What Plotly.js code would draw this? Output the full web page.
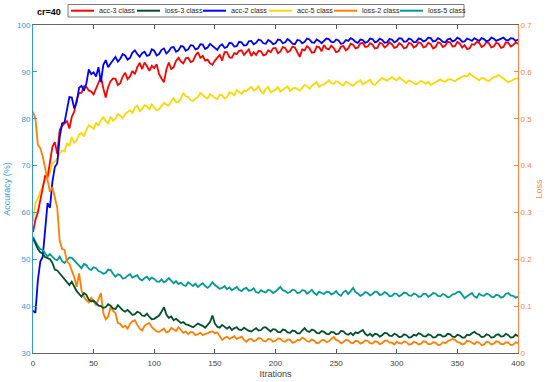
<!DOCTYPE html>
<html>
<head>
<meta charset="utf-8">
<script src="https://cdn.plot.ly/plotly-3.0.1.min.js"></script>
<style>html,body{margin:0;padding:0;background:#fff}#chart{width:550px;height:382px}</style>
</head>
<body>
<div id="chart"></div>
<script>
// Iterations sampled every 2 steps (0..400)
const iterations = Array.from({length: 201}, (_, i) => i * 2);

const acc3 = [
55.8,58.4,60.0,62.6,65.4,67.8,67.5,71.2,74.0,75.0,
72.5,77.6,78.5,79.0,79.5,77.9,80.4,81.5,84.0,85.5,
85.5,86.9,86.8,86.0,85.8,85.2,86.5,87.5,88.9,86.5,
84.5,86.8,88.0,88.6,88.5,87.2,87.6,89.0,89.8,88.4,
89.0,90.2,89.5,91.0,91.9,90.6,92.0,91.2,90.2,91.3,
90.8,91.6,89.5,88.6,87.8,90.5,92.0,90.6,91.0,92.4,
93.0,92.2,91.8,92.9,93.0,92.1,92.3,93.5,94.2,93.0,
93.4,92.4,92.6,91.8,91.5,92.4,93.0,93.6,92.4,94.2,
94.2,93.1,93.0,94.0,93.8,94.5,94.6,93.6,94.2,94.8,
93.4,94.2,93.6,94.5,94.4,93.5,93.7,94.6,94.2,95.0,
95.1,94.0,94.3,95.3,95.1,94.2,94.5,95.4,95.2,94.0,
93.2,94.8,94.6,95.5,95.0,94.1,94.2,95.4,95.3,94.4,
95.7,95.0,94.8,95.6,95.1,94.2,94.4,95.4,95.5,94.6,
95.0,96.0,95.8,95.0,95.2,96.1,96.2,95.3,95.4,96.1,
95.8,95.0,95.1,96.2,96.0,95.2,95.6,96.3,95.9,95.1,
95.3,96.1,95.8,95.0,95.2,96.2,96.0,95.2,95.5,96.3,
96.1,95.2,95.4,96.2,95.9,95.0,95.3,96.3,96.1,95.3,
95.6,96.4,96.3,95.4,95.5,96.4,96.0,95.2,95.7,94.9,
95.0,95.9,95.8,96.4,96.2,95.3,95.6,96.4,96.1,95.2,
95.4,96.2,96.0,95.1,95.3,96.3,96.2,95.4,95.7,96.3,
96.0];

const loss3 = [
0.245,0.232,0.222,0.215,0.212,0.205,0.203,0.200,0.192,0.178,
0.176,0.170,0.162,0.158,0.150,0.145,0.152,0.140,0.132,0.126,
0.120,0.128,0.124,0.114,0.110,0.112,0.106,0.101,0.100,0.096,
0.098,0.104,0.101,0.095,0.094,0.102,0.097,0.091,0.088,0.092,
0.087,0.081,0.083,0.088,0.086,0.080,0.079,0.084,0.077,0.072,
0.073,0.076,0.080,0.088,0.098,0.082,0.075,0.078,0.070,0.073,
0.068,0.064,0.066,0.061,0.060,0.057,0.055,0.059,0.063,0.060,
0.058,0.054,0.060,0.066,0.080,0.063,0.056,0.054,0.060,0.055,
0.052,0.056,0.049,0.053,0.055,0.050,0.049,0.054,0.051,0.047,
0.046,0.050,0.053,0.048,0.049,0.054,0.055,0.050,0.046,0.051,
0.050,0.045,0.044,0.050,0.049,0.044,0.043,0.048,0.047,0.042,
0.042,0.048,0.053,0.047,0.045,0.050,0.048,0.043,0.042,0.047,
0.045,0.041,0.040,0.045,0.044,0.040,0.041,0.047,0.046,0.041,
0.039,0.043,0.038,0.044,0.042,0.046,0.049,0.041,0.037,0.041,
0.036,0.041,0.040,0.035,0.038,0.043,0.042,0.037,0.036,0.041,
0.039,0.034,0.035,0.040,0.038,0.033,0.034,0.039,0.037,0.042,
0.040,0.036,0.035,0.040,0.038,0.033,0.034,0.039,0.039,0.035,
0.036,0.041,0.040,0.035,0.034,0.039,0.037,0.033,0.033,0.039,
0.038,0.042,0.045,0.041,0.039,0.034,0.035,0.040,0.038,0.033,
0.034,0.039,0.040,0.035,0.036,0.041,0.038,0.033,0.034,0.039,
0.036];

const acc2 = [
39.0,38.6,45.5,49.5,50.5,57.0,62.0,61.0,66.5,69.7,
70.5,76.0,79.0,79.2,82.0,84.6,84.5,82.2,83.5,86.6,
87.0,86.0,87.5,90.5,89.5,89.9,89.0,91.0,87.8,91.5,
92.5,91.0,91.8,92.6,93.2,92.2,92.8,93.8,93.5,92.6,
93.0,94.1,94.6,93.8,93.2,94.0,94.3,93.4,93.6,94.8,
94.5,93.5,93.8,94.7,95.0,93.9,94.4,95.2,95.3,94.3,
94.6,95.5,95.4,94.5,94.8,95.7,95.6,94.8,95.0,95.9,
95.8,94.9,95.2,96.0,95.6,95.0,94.7,95.5,95.9,95.1,
95.3,96.2,96.1,95.4,95.5,96.4,96.3,95.6,95.7,96.5,
96.6,95.9,96.2,96.9,96.7,96.1,96.0,96.8,96.5,95.9,
96.1,96.9,96.8,96.1,96.3,97.0,96.6,96.0,95.9,96.8,
96.7,96.1,96.4,97.1,96.9,96.3,96.2,96.9,96.6,96.1,
96.5,97.1,97.0,96.4,96.3,96.9,96.7,96.0,96.1,96.8,
96.6,97.2,96.9,96.4,96.2,96.9,96.8,96.2,96.4,97.1,
97.0,96.3,96.5,97.1,96.8,96.2,96.3,97.0,96.9,96.3,
96.6,97.2,97.1,96.4,96.5,97.1,96.9,96.3,96.4,97.1,
97.0,96.5,96.7,97.3,97.2,96.5,96.6,97.2,96.9,96.4,
96.3,96.9,97.1,96.5,96.7,97.3,97.0,96.4,96.5,97.1,
96.9,96.6,97.2,96.8,96.6,97.2,97.0,96.5,96.7,97.3,
97.1,96.6,96.8,97.1,97.3,96.8,96.7,97.2,97.1,96.6,
96.9];

const acc5 = [
58.0,62.0,63.0,64.5,65.4,67.0,67.8,68.5,70.5,70.8,
71.5,72.6,73.2,73.0,74.8,74.2,76.1,74.9,75.4,76.6,
77.0,76.2,77.6,78.6,78.3,77.8,79.2,78.5,79.7,80.3,
79.5,79.0,80.4,79.6,80.0,81.0,80.6,80.1,81.0,81.5,
81.8,81.2,82.4,82.8,81.6,82.1,82.9,82.6,82.0,83.0,
82.5,81.8,82.0,82.8,83.4,83.0,82.8,83.7,84.4,83.5,
83.6,84.3,85.5,84.8,84.6,84.0,83.8,84.3,84.6,85.5,
85.0,84.6,84.3,85.2,84.9,84.4,84.2,85.1,85.0,84.3,
84.6,85.6,85.4,85.0,86.1,85.6,85.3,86.0,85.9,86.4,
86.8,86.0,86.3,86.9,85.8,85.4,86.4,86.8,85.6,85.9,
86.2,86.7,85.8,86.2,86.5,86.9,85.9,86.4,86.6,86.2,
86.0,86.6,87.2,87.0,86.4,87.0,87.5,87.8,86.8,87.2,
87.3,87.8,88.2,87.6,87.4,88.0,87.8,87.3,87.1,87.9,
87.6,87.2,87.0,87.6,87.9,88.2,87.3,87.6,88.0,88.3,
87.4,87.2,87.8,88.3,88.7,88.4,88.1,88.5,88.9,88.5,
88.2,88.8,88.4,87.9,87.6,88.2,87.9,87.5,87.3,87.7,
88.1,87.8,87.5,87.9,87.2,87.5,87.8,88.2,88.4,88.0,
87.9,88.3,88.5,88.2,88.0,88.4,88.7,89.0,89.2,89.0,
89.7,89.2,88.8,88.4,88.2,88.7,88.6,88.2,88.0,88.5,
88.9,89.0,89.3,89.0,88.6,88.2,87.8,88.0,88.3,88.6,
88.6];

const loss2 = [
0.515,0.500,0.444,0.437,0.420,0.395,0.365,0.344,0.354,0.333,
0.310,0.240,0.222,0.220,0.195,0.190,0.177,0.162,0.141,0.170,
0.134,0.120,0.113,0.108,0.118,0.110,0.102,0.115,0.128,0.085,
0.072,0.078,0.098,0.090,0.085,0.064,0.062,0.055,0.058,0.052,
0.062,0.068,0.070,0.060,0.052,0.048,0.058,0.062,0.064,0.055,
0.050,0.046,0.045,0.049,0.052,0.044,0.046,0.054,0.050,0.047,
0.055,0.048,0.043,0.046,0.040,0.045,0.044,0.038,0.040,0.043,
0.038,0.041,0.042,0.045,0.046,0.042,0.044,0.036,0.028,0.032,
0.035,0.030,0.033,0.036,0.030,0.032,0.035,0.028,0.024,0.029,
0.030,0.025,0.027,0.032,0.031,0.026,0.025,0.030,0.029,0.024,
0.026,0.031,0.030,0.025,0.024,0.029,0.028,0.022,0.023,0.028,
0.027,0.033,0.030,0.025,0.024,0.029,0.026,0.021,0.022,0.027,
0.028,0.023,0.025,0.030,0.034,0.028,0.026,0.021,0.023,0.028,
0.027,0.022,0.021,0.026,0.025,0.020,0.022,0.027,0.026,0.021,
0.020,0.025,0.024,0.019,0.021,0.026,0.027,0.022,0.022,0.018,
0.024,0.021,0.020,0.025,0.023,0.018,0.019,0.024,0.022,0.018,
0.020,0.025,0.024,0.019,0.019,0.023,0.022,0.017,0.018,0.023,
0.021,0.025,0.027,0.030,0.028,0.023,0.022,0.018,0.020,0.026,
0.025,0.021,0.019,0.024,0.022,0.017,0.018,0.024,0.023,0.018,
0.020,0.025,0.024,0.019,0.019,0.023,0.022,0.017,0.018,0.023,
0.021];

const loss5 = [
0.248,0.238,0.228,0.222,0.220,0.213,0.206,0.211,0.205,0.200,
0.198,0.206,0.196,0.192,0.198,0.204,0.203,0.197,0.192,0.185,
0.181,0.190,0.188,0.180,0.177,0.183,0.181,0.175,0.173,0.169,
0.171,0.178,0.177,0.169,0.163,0.168,0.166,0.159,0.160,0.165,
0.168,0.161,0.163,0.166,0.158,0.155,0.160,0.163,0.156,0.161,
0.158,0.153,0.152,0.157,0.151,0.154,0.160,0.154,0.149,0.153,
0.147,0.150,0.145,0.143,0.151,0.147,0.143,0.148,0.141,0.145,
0.149,0.143,0.139,0.144,0.151,0.145,0.141,0.137,0.139,0.143,
0.136,0.140,0.134,0.137,0.141,0.135,0.132,0.137,0.139,0.133,
0.134,0.138,0.130,0.128,0.134,0.131,0.129,0.135,0.133,0.128,
0.131,0.136,0.141,0.134,0.132,0.128,0.130,0.135,0.134,0.128,
0.129,0.134,0.133,0.127,0.130,0.135,0.128,0.124,0.131,0.128,
0.126,0.131,0.130,0.125,0.127,0.132,0.125,0.122,0.130,0.133,
0.126,0.132,0.139,0.130,0.127,0.122,0.125,0.130,0.128,0.123,
0.126,0.131,0.130,0.124,0.125,0.130,0.127,0.121,0.122,0.127,
0.126,0.121,0.124,0.129,0.128,0.123,0.122,0.127,0.125,0.120,
0.121,0.126,0.126,0.120,0.123,0.128,0.127,0.122,0.121,0.126,
0.124,0.119,0.120,0.125,0.126,0.130,0.131,0.124,0.117,0.121,
0.124,0.128,0.121,0.118,0.127,0.123,0.122,0.127,0.125,0.120,
0.119,0.124,0.123,0.118,0.120,0.126,0.128,0.123,0.122,0.118,
0.120];

const seriesNames = ['acc-3 class','loss-3 class','acc-2 class','acc-5 class','loss-2 class','loss-5 class'];
const seriesValues = [acc3, loss3, acc2, acc5, loss2, loss5];
const seriesAxis = ['y','y2','y','y','y2','y2'];
const seriesColors = ['#ff0000','#00502a','#0000ff','#ffd700','#ff7f00','#009a96'];

const W = 550, H = 382;
const M = {l:33, r:32, t:25, b:29};
const PW = W - M.l - M.r, PH = H - M.t - M.b;
const px2x = p => (p - M.l) / PW;
const px2y = p => (H - M.b - p) / PH;

const FONT = 'Liberation Sans, Arial, Helvetica, sans-serif';
const leftColor = '#3896e0';
const rightColor = '#ff7f45';

const order = [5,4,1,3,0,2];
const traces = order.map(i => ({
  x: iterations, y: seriesValues[i], yaxis: seriesAxis[i], name: seriesNames[i],
  type: 'scatter', mode: 'lines', line: {color: seriesColors[i], width: 1.8},
  showlegend: false, hoverinfo: 'skip'
}));

// compact MATLAB-style legend
const legStarts = [71,137,203,269,334,400];
const legY = 10.7;
const shapes = [{
  type:'rect', xref:'paper', yref:'paper',
  x0: px2x(68), x1: px2x(464), y0: px2y(4.5), y1: px2y(17),
  line:{color:'#7a7a7a', width:1}, fillcolor:'#ffffff'
}];
const annotations = [];
seriesNames.forEach((n,i) => {
  shapes.push({type:'line', xref:'paper', yref:'paper',
    x0: px2x(legStarts[i]), x1: px2x(legStarts[i]+23), y0: px2y(legY), y1: px2y(legY),
    line:{color: seriesColors[i], width:2}});
  annotations.push({xref:'paper', yref:'paper', x: px2x(legStarts[i]+25.5), y: px2y(legY),
    xanchor:'left', yanchor:'middle', showarrow:false, text:n,
    font:{family:FONT, size:7.2, color:'#262626'}});
});

const layout = {
  width: W, height: H,
  margin: M,
  paper_bgcolor:'#ffffff', plot_bgcolor:'#ffffff',
  font:{family:FONT, size:8, color:'#262626'},
  title:{text:'<b>cr=40</b>', xref:'container', yref:'container', x: 37/W, xanchor:'left',
    y: 1 - 11.5/H, yanchor:'middle', font:{family:FONT, size:9, color:'#000'}},
  showlegend:false,
  xaxis:{range:[0,400], dtick:50, tick0:0, ticks:'inside', ticklen:4, tickwidth:1, tickcolor:'#555',
    showline:true, linecolor:'#666', linewidth:1, mirror:'ticks', showgrid:false, zeroline:false,
    ticklabelstandoff:2,
    tickfont:{family:FONT, size:8, color:'#404040'},
    title:{text:'Itrations', font:{family:FONT, size:9, color:'#404040'}, standoff:4}},
  yaxis:{range:[30,100], dtick:10, ticks:'inside', ticklen:4, tickcolor:leftColor,
    showline:true, linecolor:leftColor, linewidth:1, showgrid:false, zeroline:false,
    tickfont:{family:FONT, size:8, color:leftColor},
    title:{text:'Accuracy (%)', font:{family:FONT, size:9, color:leftColor}, standoff:4}},
  yaxis2:{range:[0,0.7], dtick:0.1, overlaying:'y', side:'right', ticks:'inside', ticklen:4, tickcolor:rightColor,
    showline:true, linecolor:rightColor, linewidth:1, showgrid:false, zeroline:false,
    tickfont:{family:FONT, size:8, color:rightColor},
    title:{text:'Loss', font:{family:FONT, size:9, color:rightColor}, standoff:4}},
  shapes: shapes,
  annotations: annotations
};

Plotly.newPlot('chart', traces, layout, {staticPlot:true, displayModeBar:false});
</script>
</body>
</html>
